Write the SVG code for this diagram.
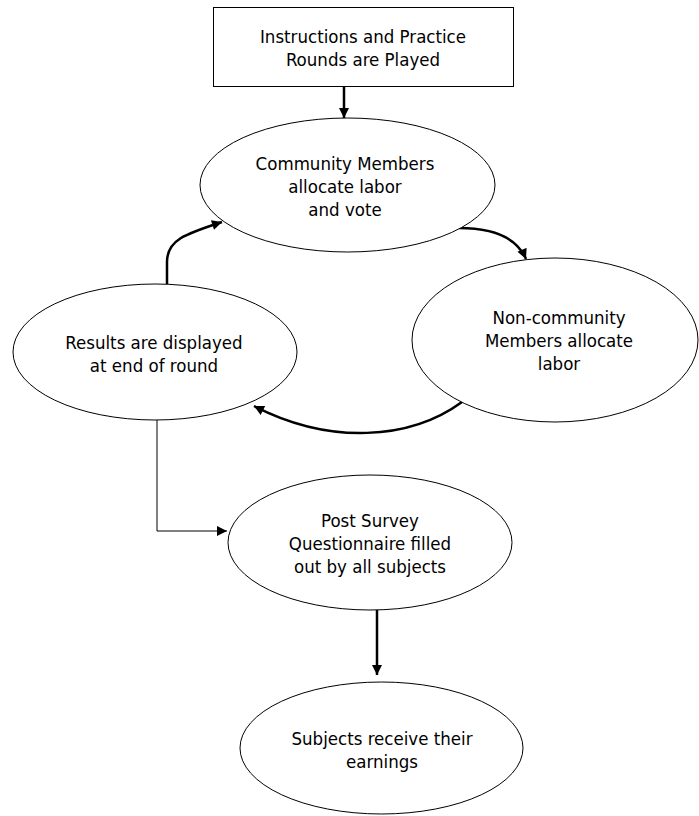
<svg xmlns="http://www.w3.org/2000/svg" width="699" height="816" viewBox="0 0 699 816">
<style>
.box{fill:#fff;stroke:#000;stroke-width:1}
.t{font-family:"DejaVu Sans Condensed","DejaVu Sans",sans-serif;font-size:18.5px;fill:#000;text-anchor:middle}
.c{fill:none;stroke:#000;stroke-width:2.5}
.thin{fill:none;stroke:#000;stroke-width:1}
</style>
<defs>
<marker id="ah" viewBox="0 0 10 10" refX="10" refY="5" markerWidth="4.4" markerHeight="4" orient="auto" markerUnits="strokeWidth">
<path d="M0,0 L10,5 L0,10 z" fill="#000"/>
</marker>
<marker id="ah2" viewBox="0 0 10 10" refX="10" refY="5" markerWidth="10" markerHeight="10" orient="auto" markerUnits="userSpaceOnUse">
<path d="M0,0 L10,5 L0,10 z" fill="#000"/>
</marker>
</defs>
<rect width="699" height="816" fill="#fff"/>
<g id="connectors">
<path class="c" d="M344,86 L344,118" marker-end="url(#ah)"/>
<path class="c" d="M459,228 C492,228 516,236 526,259" marker-end="url(#ah)"/>
<path class="c" d="M462,402 C410,440 330,445 254,406" marker-end="url(#ah)"/>
<path class="c" d="M167,284 L167,262 C167,240 185,234 222,222" marker-end="url(#ah)"/>
<path class="thin" d="M157,420 L157,531 L227,531" marker-end="url(#ah2)"/>
<path class="c" d="M377,610 L377,675" marker-end="url(#ah)"/>
</g>
<g id="n1">
<rect class="box" x="213.5" y="7.5" width="300" height="79"/>
<text class="t" x="363" y="43">Instructions and Practice</text>
<text class="t" x="363" y="66">Rounds are Played</text>
</g>
<g id="n2">
<ellipse class="box" cx="347.5" cy="185" rx="147.5" ry="67"/>
<text class="t" x="345" y="170">Community Members</text>
<text class="t" x="345" y="193">allocate labor</text>
<text class="t" x="345" y="216">and vote</text>
</g>
<g id="n3">
<ellipse class="box" cx="555" cy="340" rx="143" ry="82"/>
<text class="t" x="559" y="324">Non-community</text>
<text class="t" x="559" y="347">Members allocate</text>
<text class="t" x="559" y="370">labor</text>
</g>
<g id="n4">
<ellipse class="box" cx="155" cy="352" rx="142" ry="68"/>
<text class="t" x="154" y="349">Results are displayed</text>
<text class="t" x="154" y="372">at end of round</text>
</g>
<g id="n5">
<ellipse class="box" cx="370" cy="542.5" rx="142" ry="67.5"/>
<text class="t" x="370" y="527">Post Survey</text>
<text class="t" x="370" y="550">Questionnaire filled</text>
<text class="t" x="370" y="573">out by all subjects</text>
</g>
<g id="n6">
<ellipse class="box" cx="381.5" cy="748" rx="141.5" ry="66"/>
<text class="t" x="382" y="745">Subjects receive their</text>
<text class="t" x="382" y="768">earnings</text>
</g>
</svg>
